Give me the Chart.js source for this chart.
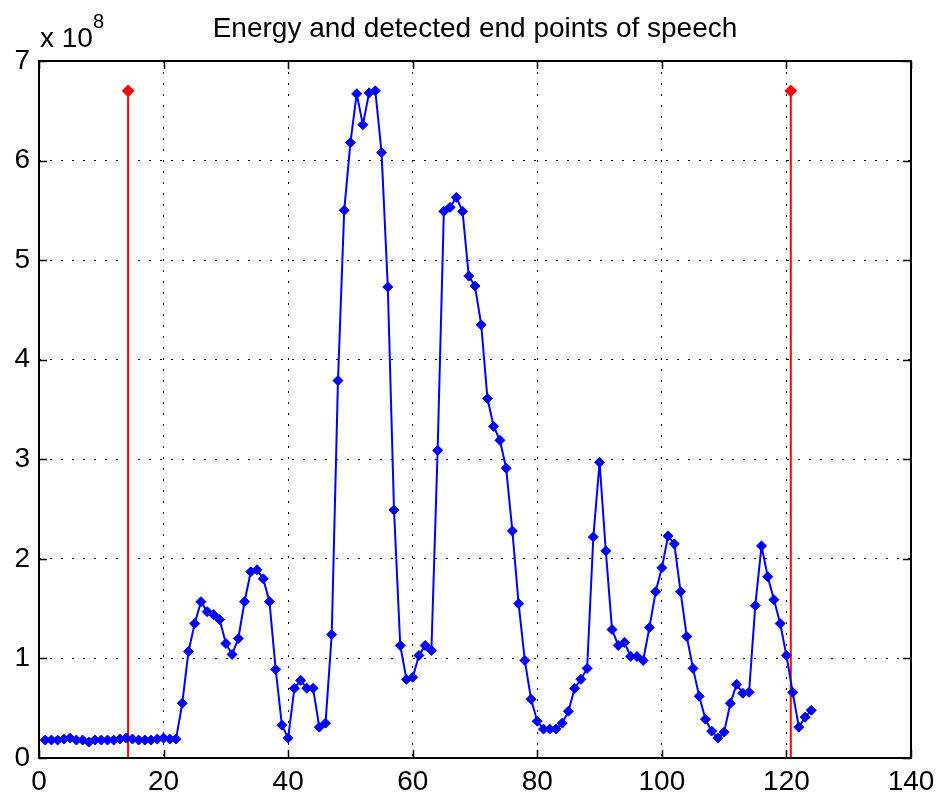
<!DOCTYPE html>
<html>
<head>
<meta charset="utf-8">
<script src="https://cdn.jsdelivr.net/npm/chart.js@4"></script>
<style>
  html, body { margin: 0; padding: 0; background: #fff; }
  canvas { display: block; }
</style>
</head>
<body>
<canvas id="energyChart" width="937" height="798"></canvas>
<script>
// short-time energy per frame, in units of 1e8
const energy = [
  0.18, 0.18, 0.18, 0.19, 0.20, 0.18, 0.18, 0.16, 0.18, 0.18,
  0.18, 0.18, 0.19, 0.20, 0.19, 0.18, 0.18, 0.18, 0.19, 0.20,
  0.19, 0.19, 0.55, 1.07, 1.35, 1.57, 1.47, 1.44, 1.39, 1.15,
  1.04, 1.20, 1.57, 1.87, 1.89, 1.80, 1.57, 0.89, 0.33, 0.20,
  0.70, 0.78, 0.70, 0.70, 0.31, 0.35, 1.24, 3.79, 5.50, 6.18,
  6.67, 6.36, 6.68, 6.70, 6.08, 4.73, 2.49, 1.13, 0.79, 0.81,
  1.03, 1.13, 1.08, 3.09, 5.49, 5.53, 5.63, 5.49, 4.84, 4.74,
  4.35, 3.61, 3.33, 3.19, 2.91, 2.28, 1.55, 0.98, 0.59, 0.37,
  0.29, 0.29, 0.29, 0.35, 0.47, 0.70, 0.79, 0.90, 2.22, 2.97,
  2.08, 1.29, 1.13, 1.16, 1.02, 1.02, 0.98, 1.31, 1.67, 1.91,
  2.23, 2.15, 1.67, 1.22, 0.90, 0.62, 0.39, 0.27, 0.20, 0.26,
  0.55, 0.74, 0.65, 0.66, 1.53, 2.13, 1.82, 1.59, 1.35, 1.03,
  0.66, 0.31, 0.41, 0.48
];
const frames = energy.map((v, i) => i + 1);
const endPoints = [14.3, 120.7];
const xTicks = [0, 20, 40, 60, 80, 100, 120, 140];
const yTicks = [0, 1, 2, 3, 4, 5, 6, 7];
const titleText = 'Energy and detected end points of speech';

const peak = Math.max(...energy);
const FONT = '"Liberation Sans", Arial, sans-serif';

// matlab style box, inward ticks, title and the x 10^8 exponent
const matlabFrame = {
  id: 'matlabFrame',
  afterDraw(chart) {
    const {ctx, chartArea: a, scales} = chart;
    const tl = 8;
    ctx.save();
    ctx.strokeStyle = '#000';
    ctx.lineWidth = 1.5;
    ctx.beginPath();
    xTicks.forEach(v => {
      const px = Math.round(scales.x.getPixelForValue(v)) + 0.5;
      ctx.moveTo(px, a.bottom); ctx.lineTo(px, a.bottom - tl);
      ctx.moveTo(px, a.top); ctx.lineTo(px, a.top + tl);
    });
    yTicks.forEach(v => {
      const py = Math.round(scales.y.getPixelForValue(v)) + 0.5;
      ctx.moveTo(a.left, py); ctx.lineTo(a.left + tl, py);
      ctx.moveTo(a.right, py); ctx.lineTo(a.right - tl, py);
    });
    ctx.stroke();
    ctx.lineWidth = 2;
    ctx.strokeRect(a.left, a.top, a.right - a.left, a.bottom - a.top);

    ctx.fillStyle = '#000';
    ctx.textBaseline = 'alphabetic';
    ctx.font = '28px ' + FONT;
    ctx.textAlign = 'center';
    ctx.fillText(titleText, (a.left + a.right) / 2, 37);
    ctx.textAlign = 'left';
    ctx.fillText('x 10', 40, 47);
    ctx.font = '20px ' + FONT;
    ctx.fillText('8', 93, 28);
    ctx.restore();
  }
};

new Chart(document.getElementById('energyChart'), {
  type: 'line',
  data: {
    datasets: [
      {
        data: frames.map((f, i) => ({x: f, y: energy[i]})),
        borderColor: '#0000ff',
        backgroundColor: '#0000ff',
        borderWidth: 2,
        pointStyle: 'rectRot',
        pointRadius: 5,
        pointBorderWidth: 1,
        tension: 0,
        fill: false
      },
      {
        data: [{x: endPoints[0], y: 0}, {x: endPoints[0], y: peak}],
        borderColor: '#ff0000',
        backgroundColor: '#ff0000',
        borderWidth: 2,
        pointStyle: 'rectRot',
        pointRadius: [0, 5],
        fill: false
      },
      {
        data: [{x: endPoints[1], y: 0}, {x: endPoints[1], y: peak}],
        borderColor: '#ff0000',
        backgroundColor: '#ff0000',
        borderWidth: 2,
        pointStyle: 'rectRot',
        pointRadius: [0, 5],
        fill: false
      }
    ]
  },
  options: {
    responsive: false,
    animation: false,
    layout: { padding: {top: 61, right: 26, bottom: 0, left: 0} },
    plugins: {
      legend: { display: false },
      tooltip: { enabled: false },
      title: { display: false }
    },
    scales: {
      x: {
        type: 'linear',
        min: 0,
        max: 140,
        afterFit: s => { s.height = 40; s.paddingLeft = 0; s.paddingRight = 0; },
        afterBuildTicks: s => { s.ticks = xTicks.map(v => ({value: v})); },
        ticks: {
          color: '#000',
          font: {family: FONT, size: 28},
          padding: 7,
          maxRotation: 0
        },
        grid: { color: '#000', lineWidth: 1, drawTicks: false },
        border: { display: false, dash: [2, 9] }
      },
      y: {
        type: 'linear',
        min: 0,
        max: 7,
        afterFit: s => { s.width = 39; s.paddingTop = 0; s.paddingBottom = 0; },
        afterBuildTicks: s => { s.ticks = yTicks.map(v => ({value: v})); },
        ticks: {
          color: '#000',
          font: {family: FONT, size: 28},
          padding: 9
        },
        grid: { color: '#000', lineWidth: 1, drawTicks: false },
        border: { display: false, dash: [2, 9] }
      }
    }
  },
  plugins: [matlabFrame]
});
</script>
</body>
</html>
